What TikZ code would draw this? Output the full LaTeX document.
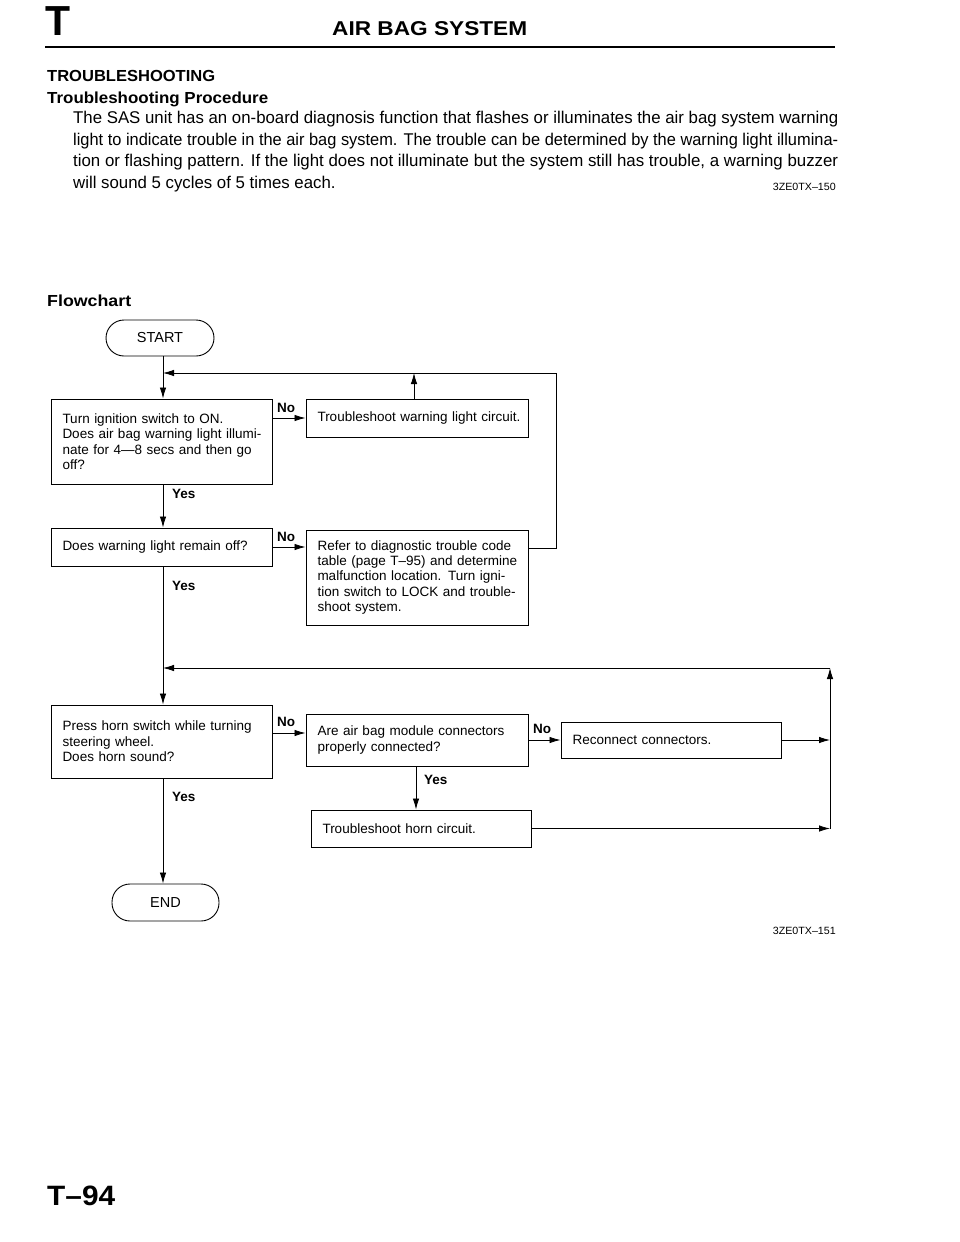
\documentclass[tikz,border=0pt]{standalone}
\usepackage{fontspec}
\setmainfont{Liberation Sans}
\usepackage{graphicx}
\usetikzlibrary{arrows.meta}
\newcommand{\fitw}[2]{\resizebox{#1pt}{\height}{#2}}
\newcommand{\jl}[1]{\makebox[\hsize][s]{#1}}
\newcommand{\bx}{\fontsize{13.5}{15.4}\selectfont}
\newcommand{\pf}{\fontsize{17}{20}\selectfont}
\newlength{\plw}
\begin{document}
\settowidth{\plw}{\pf The SAS unit has an on-board diagnosis function that flashes or illuminates the air bag system warning}
\pgfmathsetmacro{\pscale}{765/\plw}
\begin{tikzpicture}[x=1pt,y=-1pt,
  box/.style={draw, line width=0.9pt, inner xsep=11.5pt, inner ysep=0pt, align=left, font=\bx},
  pill/.style={draw, line width=0.9pt, rounded corners=18pt, font=\fontsize{14.5}{16}\selectfont, inner sep=0pt},
  arr/.style={line width=0.8pt, -{Latex[length=11pt,width=6.5pt]}},
  lbl/.style={font=\bfseries\fontsize{13.5}{15}\selectfont, anchor=west, inner sep=0pt},
  txt/.style={anchor=base west, inner sep=0pt},
  txtr/.style={anchor=base east, inner sep=0pt}]
\useasboundingbox[fill=white] (0,0) rectangle (960,1242);

% header
\node[txt, font=\bfseries\fontsize{42}{46}\selectfont] (hT) at (45,35) {\fitw{25}{T}};
\node[txt, font=\bfseries\fontsize{20}{24}\selectfont] (hTitle) at (332,35) {\fitw{195}{AIR BAG SYSTEM}};
\coordinate (rl) at (45,47);
\coordinate (rr) at (835,47);
\draw[line width=1.8pt] (rl) -- (rr);

\node[txt, font=\bfseries\fontsize{16}{20}\selectfont] (h1) at (47,81) {\fitw{168}{TROUBLESHOOTING}};
\node[txt, font=\bfseries\fontsize{16}{20}\selectfont] (h2) at (47,103) {\fitw{221}{Troubleshooting Procedure}};
\node[txt, font=\pf] (p1) at (73,123) {\fitw{765}{The SAS unit has an on-board diagnosis function that flashes or illuminates the air bag system warning}};
\node[txt, font=\pf] (p2) at (73,145) {\fitw{765}{light to indicate trouble in the air bag system. The trouble can be determined by the warning light illumina-}};
\node[txt, font=\pf] (p3) at (73,166) {\fitw{765}{tion or flashing pattern. If the light does not illuminate but the system still has trouble, a warning buzzer}};
\node[txt, font=\pf] (p4) at (73,188) {\scalebox{\pscale}[1]{will sound 5 cycles of 5 times each.}};
\node[txtr, font=\fontsize{10.5}{12}\selectfont] (ref1) at (836,190) {\fitw{63}{3ZE0TX–150}};

\node[txt, font=\bfseries\fontsize{16}{20}\selectfont] (fc) at (47,306) {\fitw{84}{Flowchart}};

% nodes
\node[pill, minimum width=108, minimum height=36] (start) at (160,338) {START};
\node[box, minimum width=221, minimum height=85, text width=198] (b1) at (161.5,441.5)
  {Turn ignition switch to ON.\\ \jl{Does air bag warning light illumi-}\\ \jl{nate for 4—8 secs and then go}\\ off?};
\node[box, minimum width=222, minimum height=38, text width=199] (b2) at (417,418)
  {\mbox{Troubleshoot warning light circuit.}};
\node[box, minimum width=221, minimum height=38, text width=198] (b3) at (161.5,547)
  {\mbox{Does warning light remain off?}};
\node[box, minimum width=222, minimum height=95, text width=199] (b4) at (417,577.5)
  {\jl{Refer to diagnostic trouble code}\\ \jl{table (page T–95) and determine}\\ \jl{malfunction location. Turn igni-}\\ \jl{tion switch to LOCK and trouble-}\\ shoot system.};
\node[box, minimum width=221, minimum height=73, text width=198] (b5) at (161.5,741.5)
  {\jl{Press horn switch while turning}\\ steering wheel.\\ Does horn sound?};
\node[box, minimum width=222, minimum height=52, text width=199] (b6) at (417,740)
  {\jl{Are air bag module connectors}\\ properly connected?};
\node[box, minimum width=220, minimum height=36, text width=197] (b7) at (671,740)
  {\mbox{Reconnect connectors.}};
\node[box, minimum width=220, minimum height=37, text width=197] (b8) at (421,828.5)
  {\mbox{Troubleshoot horn circuit.}};
\node[pill, minimum width=107, minimum height=37] (end) at (165.5,902.5) {END};

% helper coordinates
\coordinate (mx) at (163,0);
\coordinate (l1) at (556,373);
\coordinate (l1b) at (556,548);
\coordinate (l2) at (830,668);
\coordinate (l2b) at (830,828.5);
\coordinate (c7) at (830,740);
\coordinate (r5) at (0,733);
\coordinate (yx) at (416,0);
\coordinate (ux) at (414,0);

% main flow
\draw[arr] (start.south -| mx) -- (b1.north -| mx);
\draw[arr] (b1.south -| mx) -- (b3.north -| mx);
\draw[arr] (b3.south -| mx) -- (b5.north -| mx);
\draw[arr] (b5.south -| mx) -- (end.north -| mx);

\draw[arr] (b1.east |- b2.west) -- (b2.west);
\draw[arr] (b3.east) -- (b4.west |- b3.east);
\draw[arr] (b5.east |- r5) -- (b6.west |- r5);
\draw[arr] (b6.east |- b7.west) -- (b7.west);
\draw[arr] (b7.east) -- (c7);
\draw[arr] (b8.east) -- (l2b);
\draw[arr] (b6.south -| yx) -- (b8.north -| yx);

% loops
\draw[arr] (b2.north -| ux) -- (ux |- l1);
\draw[arr] (b4.east |- l1b) -- (l1b) -- (l1) -- (mx |- l1);
\draw[arr] (l2b) -- (l2);
\draw[arr] (l2) -- (mx |- l2);

% labels
\node[lbl] (n1) at (277,408) {No};
\node[lbl] (n2) at (277,537) {No};
\node[lbl] (n3) at (277,722) {No};
\node[lbl] (n4) at (533,729) {No};
\node[lbl] (y1) at (172,494) {Yes};
\node[lbl] (y2) at (172,586) {Yes};
\node[lbl] (y3) at (172,797) {Yes};
\node[lbl] (y4) at (424,780) {Yes};

\node[txtr, font=\fontsize{10.5}{12}\selectfont] (ref2) at (836,934) {\fitw{63}{3ZE0TX–151}};
\node[txt, font=\bfseries\fontsize{28}{32}\selectfont] (pg) at (47,1205) {\fitw{68}{T–94}};
\end{tikzpicture}
\end{document}
